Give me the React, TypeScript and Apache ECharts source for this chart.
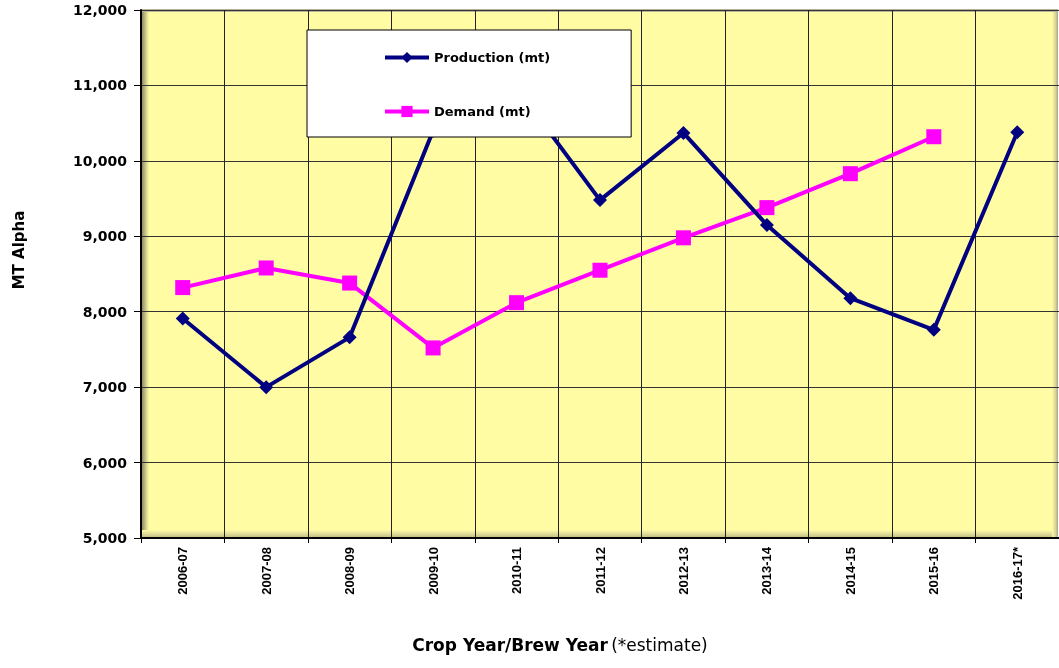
import React, { useEffect, useRef } from "react";
import * as echarts from "echarts";

const categories = ["2006-07", "2007-08", "2008-09", "2009-10", "2010-11", "2011-12", "2012-13", "2013-14", "2014-15", "2015-16", "2016-17*"];
const production = [7910, 7000, 7660, 10400, 10970, 9480, 10370, 9150, 8180, 7760, 10380];
const demand = [8320, 8580, 8380, 7520, 8120, 8550, 8980, 9380, 9830, 10320, null];
const yMin = 5000;
const yMax = 12000;
const yStep = 1000;

const YELLOW = "#FFFCA4";

export default function App() {
  const ref = useRef<HTMLDivElement>(null);
  useEffect(() => {
    if (!ref.current) return;
    const chart = echarts.init(ref.current, undefined, { renderer: "svg" });
    const option: any = {
      animation: false,
      grid: { left: 141, top: 10, right: -7, bottom: 130, show: false },
      legend: {
        orient: "vertical",
        left: 307,
        top: 30,
        itemWidth: 44,
        itemHeight: 14,
        itemGap: 41,
        padding: [21, 81, 19, 76],
        backgroundColor: "#ffffff",
        borderColor: "#000000",
        borderWidth: 1,
        z: 10,
        textStyle: { fontFamily: "DejaVu Sans", fontWeight: "bold", fontSize: 13, color: "#000" },
        data: [
          { name: "Production (mt)", lineStyle: { width: 4 }, itemStyle: { color: "#000080" } },
          { name: "Demand (mt)", lineStyle: { width: 4 }, itemStyle: { color: "#FF00FF" } },
        ],
      },
      xAxis: {
        type: "category",
        data: categories,
        boundaryGap: true,
        axisLine: { show: true, lineStyle: { color: "#000", width: 2 } },
        axisTick: { show: true, length: 5, lineStyle: { color: "#000" } },
        splitLine: { show: true, lineStyle: { color: "#222", width: 1 } },
        axisLabel: {
          rotate: 90,
          margin: 9,
          interval: 0,
          fontFamily: "Liberation Sans",
          fontWeight: "bold",
          fontSize: 13,
          color: "#000",
        },
      },
      yAxis: {
        type: "value",
        min: yMin,
        max: yMax,
        interval: yStep,
        axisLine: { show: true, lineStyle: { color: "#000", width: 2 } },
        axisTick: { show: true, length: 7, lineStyle: { color: "#000" } },
        splitLine: { show: true, lineStyle: { color: "#333", width: 1 } },
        axisLabel: {
          margin: 14,
          fontFamily: "DejaVu Sans",
          fontWeight: "bold",
          fontSize: 14,
          color: "#000",
          formatter: (v: number) => v.toLocaleString("en-US"),
        },
      },
      graphic: [
        { type: "rect", z: -10, shape: { x: 141, y: 10, width: 917, height: 528 }, style: { fill: YELLOW } },
        { type: "rect", z: -9, shape: { x: 141, y: 9, width: 917, height: 3 }, style: { fill: "#b5b39a" } },
        {
          type: "rect", z: -9, shape: { x: 142, y: 12, width: 7, height: 526 },
          style: { fill: new echarts.graphic.LinearGradient(0, 0, 1, 0, [{ offset: 0, color: "#8e8b62" }, { offset: 0.5, color: "#c9c58a" }, { offset: 1, color: YELLOW }]) },
        },
        {
          type: "rect", z: -9, shape: { x: 142, y: 530, width: 916, height: 8 },
          style: { fill: new echarts.graphic.LinearGradient(0, 0, 0, 1, [{ offset: 0, color: YELLOW }, { offset: 0.4, color: "#e6e19a" }, { offset: 1, color: "#bdb985" }]) },
        },
        {
          type: "rect", z: -9, shape: { x: 1052, y: 12, width: 6, height: 526 },
          style: { fill: new echarts.graphic.LinearGradient(0, 0, 1, 0, [{ offset: 0, color: YELLOW }, { offset: 0.6, color: "#d8d495" }, { offset: 1, color: "#a8a58a" }]) },
        },
        {
          type: "text", x: 19, y: 250, rotation: Math.PI / 2,
          style: { text: "MT Alpha", fontFamily: "DejaVu Sans", fontWeight: "bold", fontSize: 15, fill: "#000", align: "center", verticalAlign: "middle" },
        },
        {
          type: "text", x: 560, y: 645,
          style: {
            text: "{b|Crop Year/Brew Year} {n|(*estimate)}",
            align: "center",
            verticalAlign: "middle",
            rich: {
              b: { fontFamily: "DejaVu Sans", fontWeight: "bold", fontSize: 17, fill: "#000" },
              n: { fontFamily: "DejaVu Sans", fontWeight: "normal", fontSize: 17, fill: "#000" },
            },
          },
        },
      ],
      series: [
        {
          name: "Production (mt)",
          type: "line",
          data: production,
          color: "#000080",
          lineStyle: { color: "#000080", width: 4 },
          itemStyle: { color: "#000080" },
          symbol: "diamond",
          symbolSize: 14,
          z: 3,
        },
        {
          name: "Demand (mt)",
          type: "line",
          data: demand,
          color: "#FF00FF",
          lineStyle: { color: "#FF00FF", width: 4 },
          itemStyle: { color: "#FF00FF" },
          symbol: "rect",
          symbolSize: 15,
          z: 2,
        },
      ],
    };
    chart.setOption(option);
    return () => chart.dispose();
  }, []);
  return <div ref={ref} style={{ position: "fixed", left: 0, top: 0, width: 1059, height: 668 }} />;
}
